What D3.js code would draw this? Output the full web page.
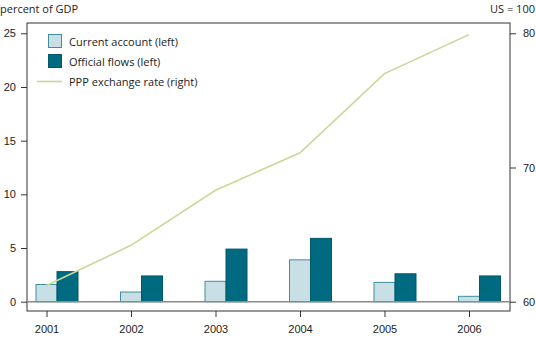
<!DOCTYPE html>
<html>
<head>
<meta charset="utf-8">
<script src="https://cdn.jsdelivr.net/npm/d3@7"></script>
<style>
  body { margin: 0; background: #fff; }
  svg { display: block; font-family: "Open Sans", "Noto Sans", sans-serif; }
</style>
</head>
<body>
<svg id="chart" width="536" height="341"></svg>
<script>
'use strict';

// data
const years = ['2001', '2002', '2003', '2004', '2005', '2006'];
const currentAccount = [1.6, 0.9, 1.9, 3.9, 1.8, 0.5];
const officialFlows = [2.8, 2.4, 4.9, 5.9, 2.6, 2.4];
const pppRate = [61.2, 64.2, 68.3, 71.1, 77.0, 79.9];
const leftTicks = [0, 5, 10, 15, 20, 25];
const rightTicks = [60, 70, 80];

const legendItems = [
    { label: 'Current account (left)', type: 'bar', fill: '#c8e0e5', stroke: '#3f8e9e' },
    { label: 'Official flows (left)', type: 'bar', fill: '#006b80', stroke: '#00586a' },
    { label: 'PPP exchange rate (right)', type: 'line', stroke: '#c8d898' }
];

let svg = d3.select('#chart');

let box = { left: 27, right: 510, top: 23, bottom: 311 };
let barW = 21;

let x = d3.scalePoint().domain(years).range([46.5, 469]);
let yLeft = d3.scaleLinear().domain([0, 25]).range([301.7, 33.3]);
let yRight = d3.scaleLinear().domain([60, 80]).range([301.7, 33.3]);

// frame
svg.append('rect')
    .attr('x', box.left).attr('y', box.top)
    .attr('width', box.right - box.left).attr('height', box.bottom - box.top)
    .attr('fill', 'none').attr('stroke', '#333').attr('stroke-width', 1);

function styleAxis(g) {
    g.select('.domain').remove();
    g.selectAll('.tick line').attr('stroke', '#333');
    g.selectAll('.tick text').attr('fill', '#222').style('font-size', '11px');
}

svg.append('g')
    .attr('transform', `translate(${box.left},0)`)
    .call(d3.axisLeft(yLeft).tickValues(leftTicks).tickSize(6).tickPadding(5))
    .call(styleAxis);

svg.append('g')
    .attr('transform', `translate(${box.right},0)`)
    .call(d3.axisRight(yRight).tickValues(rightTicks).tickSize(6).tickPadding(7))
    .call(styleAxis);

svg.append('g')
    .attr('transform', `translate(0,${box.bottom})`)
    .call(d3.axisBottom(x).tickSize(6).tickPadding(8))
    .call(styleAxis);

// bars
svg.append('g').selectAll('rect')
    .data(years)
    .join('rect')
    .attr('x', d => x(d) - 10.5)
    .attr('y', (d, i) => yLeft(currentAccount[i]))
    .attr('width', barW)
    .attr('height', (d, i) => yLeft(0) - yLeft(currentAccount[i]))
    .attr('fill', legendItems[0].fill)
    .attr('stroke', legendItems[0].stroke)
    .attr('stroke-width', 1);

svg.append('g').selectAll('rect')
    .data(years)
    .join('rect')
    .attr('x', d => x(d) + 10.5)
    .attr('y', (d, i) => yLeft(officialFlows[i]))
    .attr('width', barW)
    .attr('height', (d, i) => yLeft(0) - yLeft(officialFlows[i]))
    .attr('fill', legendItems[1].fill)
    .attr('stroke', legendItems[1].stroke)
    .attr('stroke-width', 1);

// zero line
svg.append('line')
    .attr('x1', box.left).attr('x2', box.right)
    .attr('y1', yLeft(0)).attr('y2', yLeft(0))
    .attr('stroke', '#8a8a8a').attr('stroke-width', 1.5);

// PPP line
let line = d3.line()
    .x((d, i) => x(years[i]))
    .y(d => yRight(d));

svg.append('path')
    .datum(pppRate)
    .attr('d', line)
    .attr('fill', 'none')
    .attr('stroke', legendItems[2].stroke)
    .attr('stroke-width', 1.6);

// legend
let legend = svg.append('g').attr('transform', 'translate(48,34)');
legendItems.forEach((item, i) => {
    let g = legend.append('g').attr('transform', `translate(0,${i * 20})`);
    if (item.type === 'bar') {
        g.append('rect')
            .attr('x', 0.5).attr('y', 0.5)
            .attr('width', 13).attr('height', 13)
            .attr('fill', item.fill).attr('stroke', item.stroke);
    } else {
        g.append('line')
            .attr('x1', -11).attr('x2', 14)
            .attr('y1', 7.5).attr('y2', 7.5)
            .attr('stroke', item.stroke).attr('stroke-width', 1.6);
    }
    g.append('text')
        .attr('x', 21).attr('y', 11.5)
        .attr('fill', '#222')
        .style('font-size', '11px')
        .text(item.label);
});

// axis titles
svg.append('text')
    .attr('x', 0).attr('y', 13)
    .attr('fill', '#222').style('font-size', '11px')
    .text('percent of GDP');

svg.append('text')
    .attr('x', 535).attr('y', 13)
    .attr('text-anchor', 'end')
    .attr('fill', '#222').style('font-size', '11px')
    .text('US = 100');
</script>
</body>
</html>
